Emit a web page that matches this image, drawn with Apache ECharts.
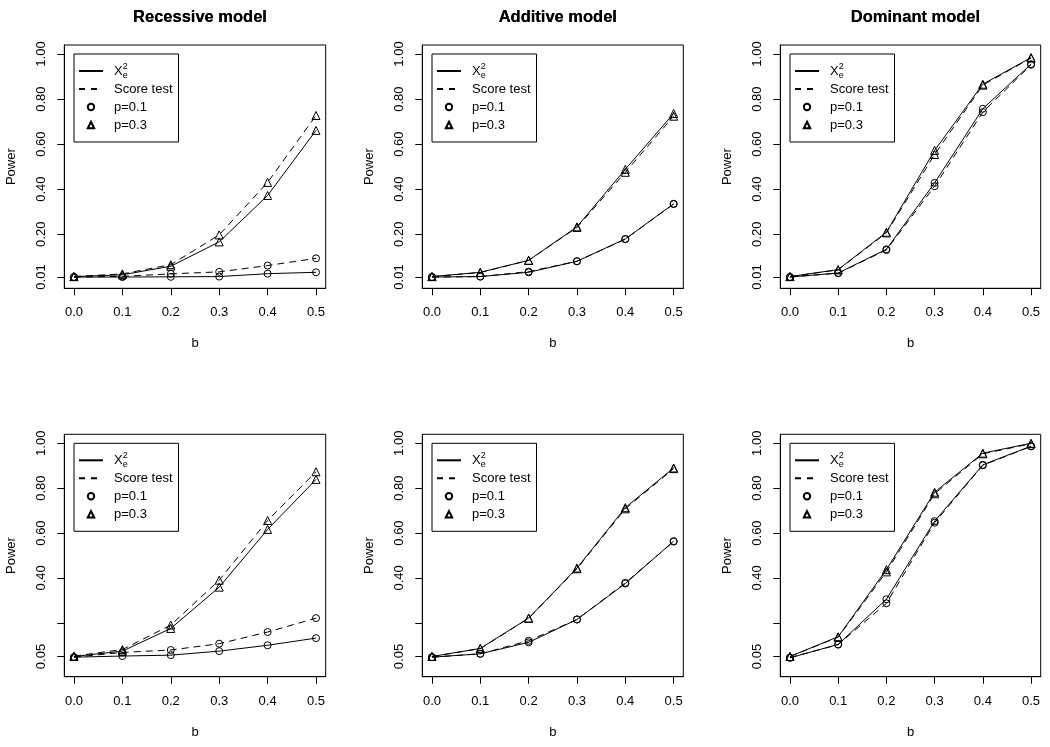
<!DOCTYPE html>
<html><head><meta charset="utf-8">
<script src="https://cdn.jsdelivr.net/npm/echarts@6/dist/echarts.min.js"></script>
<style>html,body{margin:0;padding:0;background:#fff}#c{width:1050px;height:747px}</style>
</head><body><div id="c"></div>
<script>
// ---------- data ----------
const bValues = [0, 0.1, 0.2, 0.3, 0.4, 0.5];
const xTickValues = [0, 0.1, 0.2, 0.3, 0.4, 0.5];
const topYTicks = [0.01, 0.2, 0.4, 0.6, 0.8, 1.0];
const topYLabels = [0.01, 0.2, 0.4, 0.6, 0.8, 1.0];
const bottomYTicks = [0.05, 0.2, 0.4, 0.6, 0.8, 1.0];
const bottomYLabels = [0.05, 0.4, 0.6, 0.8, 1.0];
const panelTitles = ['Recessive model', 'Additive model', 'Dominant model'];
const legendNames = ['X2e', 'Score test', 'p=0.1', 'p=0.3'];

// top row
const recA_chi_p1   = [0.010, 0.010, 0.011, 0.012, 0.025, 0.031];
const recA_score_p1 = [0.010, 0.013, 0.024, 0.033, 0.061, 0.093];
const recA_chi_p3   = [0.012, 0.020, 0.058, 0.166, 0.372, 0.661];
const recA_score_p3 = [0.012, 0.024, 0.065, 0.197, 0.430, 0.727];

const addA_chi_p1   = [0.010, 0.012, 0.031, 0.080, 0.179, 0.335];
const addA_score_p1 = [0.010, 0.012, 0.034, 0.080, 0.178, 0.334];
const addA_chi_p3   = [0.012, 0.031, 0.084, 0.233, 0.488, 0.736];
const addA_score_p3 = [0.012, 0.030, 0.084, 0.230, 0.475, 0.724];

const domA_chi_p1   = [0.010, 0.028, 0.133, 0.428, 0.757, 0.955];
const domA_score_p1 = [0.010, 0.027, 0.130, 0.413, 0.742, 0.952];
const domA_chi_p3   = [0.012, 0.043, 0.209, 0.572, 0.866, 0.984];
const domA_score_p3 = [0.012, 0.042, 0.206, 0.554, 0.862, 0.982];

// bottom row
const recB_chi_p1   = [0.047, 0.052, 0.056, 0.074, 0.100, 0.132];
const recB_score_p1 = [0.047, 0.068, 0.079, 0.107, 0.159, 0.221];
const recB_chi_p3   = [0.050, 0.074, 0.175, 0.359, 0.616, 0.839];
const recB_score_p3 = [0.052, 0.081, 0.190, 0.390, 0.656, 0.873];

const addB_chi_p1   = [0.047, 0.062, 0.113, 0.215, 0.375, 0.564];
const addB_score_p1 = [0.047, 0.062, 0.120, 0.215, 0.378, 0.562];
const addB_chi_p3   = [0.050, 0.086, 0.221, 0.444, 0.713, 0.890];
const addB_score_p3 = [0.050, 0.085, 0.220, 0.441, 0.708, 0.887];

const domB_chi_p1   = [0.044, 0.104, 0.305, 0.653, 0.904, 0.987];
const domB_score_p1 = [0.045, 0.103, 0.287, 0.646, 0.902, 0.986];
const domB_chi_p3   = [0.050, 0.138, 0.437, 0.782, 0.956, 1.000];
const domB_score_p3 = [0.050, 0.136, 0.427, 0.775, 0.953, 0.998];

// ---------- layout ----------
const FONT = '"Liberation Sans", Arial, Helvetica, sans-serif';
const cols = [{left: 64.3, width: 261.4}, {left: 422.3, width: 261}, {left: 780.3, width: 260.4}];
const rows = [{top: 45, height: 243.3}, {top: 434.3, height: 242.4}];

const panels = [
  {row: 0, col: 0, d: [recA_chi_p1, recA_score_p1, recA_chi_p3, recA_score_p3]},
  {row: 0, col: 1, d: [addA_chi_p1, addA_score_p1, addA_chi_p3, addA_score_p3]},
  {row: 0, col: 2, d: [domA_chi_p1, domA_score_p1, domA_chi_p3, domA_score_p3]},
  {row: 1, col: 0, d: [recB_chi_p1, recB_score_p1, recB_chi_p3, recB_score_p3]},
  {row: 1, col: 1, d: [addB_chi_p1, addB_score_p1, addB_chi_p3, addB_score_p3]},
  {row: 1, col: 2, d: [domB_chi_p1, domB_score_p1, domB_chi_p3, domB_score_p3]}
];

const grid = [], xAxis = [], yAxis = [], title = [], legend = [], series = [];
const symStyle = {color: 'rgba(0,0,0,0)', borderColor: '#000', borderWidth: 1};
const noSym = {color: 'rgba(0,0,0,0)', borderColor: 'rgba(0,0,0,0)', borderWidth: 0};
const DASH = [7, 5];

panels.forEach((p, i) => {
  const c = cols[p.col], r = rows[p.row];
  grid.push({left: c.left, top: r.top, width: c.width, height: r.height,
    show: true, borderColor: '#000', borderWidth: 1, backgroundColor: 'transparent', containLabel: false});
  xAxis.push({type: 'value', gridIndex: i, min: -0.02, max: 0.52,
    name: 'b', nameLocation: 'middle', nameGap: 49,
    nameTextStyle: {fontSize: 13, color: '#000', fontFamily: FONT},
    axisLine: {show: true, onZero: false, lineStyle: {color: '#000', width: 1}},
    axisTick: {show: true, length: 7, customValues: xTickValues, lineStyle: {color: '#000'}},
    axisLabel: {customValues: xTickValues, margin: 18, fontSize: 13, color: '#000', fontFamily: FONT,
      formatter: v => v.toFixed(1)},
    splitLine: {show: false}});
  const yt = p.row === 0 ? topYTicks : bottomYTicks;
  const yl = p.row === 0 ? topYLabels : bottomYLabels;
  yAxis.push({type: 'value', gridIndex: i, min: -0.04, max: 1.04,
    name: 'Power', nameLocation: 'middle', nameGap: 46,
    nameTextStyle: {fontSize: 13, color: '#000', fontFamily: FONT},
    axisLine: {show: true, onZero: false, lineStyle: {color: '#000', width: 1}},
    axisTick: {show: true, length: 7, customValues: yt, lineStyle: {color: '#000'}},
    axisLabel: {customValues: yl, rotate: 90, margin: 16, fontSize: 13, color: '#000', fontFamily: FONT,
      formatter: v => v.toFixed(2)},
    splitLine: {show: false}});
  title.push({text: panelTitles[p.col], left: c.left + c.width / 2, top: 4, textAlign: 'center',
    textStyle: {fontSize: 16.5, fontWeight: 'bold', color: '#000', fontFamily: FONT}});
  legend.push({data: legendNames, orient: 'vertical', left: c.left + 9.7, top: r.top + 9,
    padding: [8, 6, 8, 4], itemWidth: 24, itemHeight: 8, itemGap: 0,
    borderColor: '#000', borderWidth: 1, backgroundColor: '#fff',
    selectedMode: false,
    textStyle: {fontSize: 13, color: '#000', fontFamily: FONT, lineHeight: 18, padding: [0, 0, 0, 6],
      rich: {
        x: {fontSize: 13, fontFamily: FONT, color: '#000', lineHeight: 18},
        e: {fontSize: 9, fontFamily: FONT, color: '#000', lineHeight: 9, verticalAlign: 'bottom', width: 0.1},
        s: {fontSize: 9, fontFamily: FONT, color: '#000', lineHeight: 9, verticalAlign: 'top'}
      }},
    formatter: n => n === 'X2e' ? '{x|X}{e|e}{s|2}' : n});

  const specs = [
    {dash: 'solid', sym: 'circle', size: 7},
    {dash: DASH, sym: 'circle', size: 7},
    {dash: 'solid', sym: 'triangle', size: 8},
    {dash: DASH, sym: 'triangle', size: 8}
  ];
  p.d.forEach((arr, k) => {
    series.push({type: 'line', name: 'panel' + i + '_s' + k, xAxisIndex: i, yAxisIndex: i,
      data: bValues.map((x, j) => [x, arr[j]]),
      symbol: specs[k].sym, symbolSize: specs[k].size, showAllSymbol: true,
      lineStyle: {color: '#000', width: 1, type: specs[k].dash},
      itemStyle: symStyle, emphasis: {disabled: true}, animation: false, z: 3});
  });
});

// legend-only series (no data)
series.push({type: 'line', name: 'X2e', xAxisIndex: 0, yAxisIndex: 0, data: [], symbol: 'none',
  lineStyle: {color: '#000', width: 1, type: 'solid'}, itemStyle: noSym});
series.push({type: 'line', name: 'Score test', xAxisIndex: 0, yAxisIndex: 0, data: [], symbol: 'none',
  lineStyle: {color: '#000', width: 1, type: [6, 6]}, itemStyle: noSym});
series.push({type: 'line', name: 'p=0.1', xAxisIndex: 0, yAxisIndex: 0, data: [], symbol: 'circle', symbolSize: 7,
  lineStyle: {opacity: 0}, itemStyle: symStyle});
series.push({type: 'line', name: 'p=0.3', xAxisIndex: 0, yAxisIndex: 0, data: [], symbol: 'triangle', symbolSize: 8,
  lineStyle: {opacity: 0}, itemStyle: symStyle});

const chart = echarts.init(document.getElementById('c'), null, {renderer: 'canvas'});
chart.setOption({animation: false, backgroundColor: '#fff', title, grid, xAxis, yAxis, legend, series,
  textStyle: {fontFamily: FONT}});
</script></body></html>
